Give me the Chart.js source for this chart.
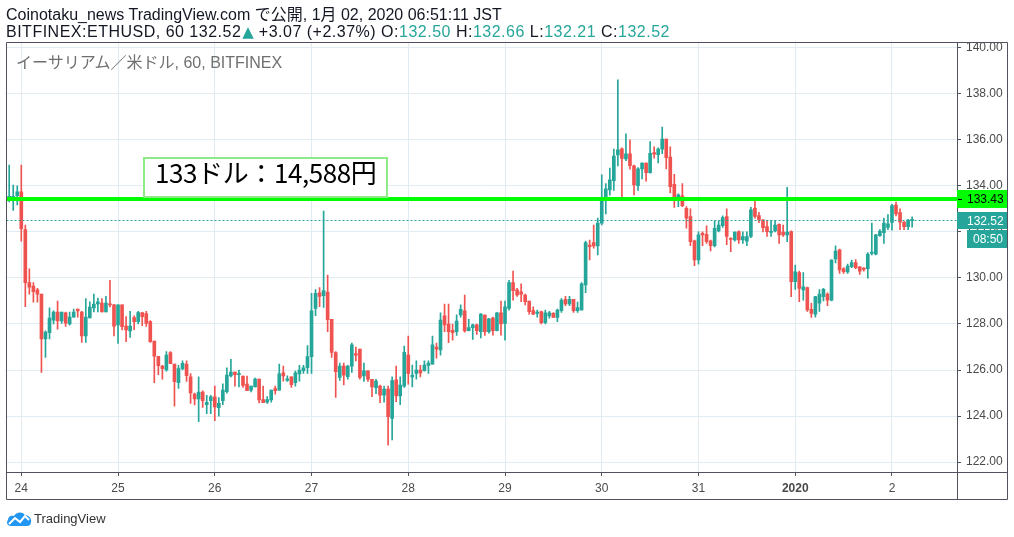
<!DOCTYPE html>
<html lang="ja">
<head>
<meta charset="utf-8">
<title>BITFINEX:ETHUSD, 60</title>
<script src="https://cdn.jsdelivr.net/npm/chart.js@4.4.1/dist/chart.umd.min.js"></script>
<style>
  html, body { margin: 0; padding: 0; background: #fff; }
  body {
    width: 1014px; height: 537px; position: relative; overflow: hidden;
    font-family: "Liberation Sans", "Noto Sans CJK JP", sans-serif;
  }
  #chart { position: absolute; left: 0; top: 0; }
  .hdr { position: absolute; left: 6px; font-size: 16px; line-height: 16px; color: #131722; white-space: nowrap; }
  #hdr1 { top: 7px; }
  #hdr2 { top: 24px; letter-spacing: 0.5px; }
  #hdr2 .tri { font-family: "DejaVu Sans", sans-serif; font-size: 15px; margin: 0 5px 0 1px; letter-spacing: 0; }
  .up { color: #26a69a; }
  #wm { position: absolute; left: 16px; top: 55px; font-size: 16px; line-height: 15px; color: #6f6f6f; white-space: nowrap; }
  #note {
    position: absolute; left: 143px; top: 157px; width: 245px; height: 41px; box-sizing: border-box;
    border: 2px solid #8fe986; background: #fff; padding-left: 10px; letter-spacing: -0.4px;
    font-family: "Noto Sans CJK JP", sans-serif; font-size: 26px; line-height: 26px; color: #000; white-space: nowrap;
  }
  #footer { position: absolute; left: 6px; top: 510px; height: 18px; }
  #footer svg { position: absolute; left: 0; top: 0; }
  #footer span { position: absolute; left: 28px; top: 2px; font-size: 13px; line-height: 13px; color: #333; }
</style>
</head>
<body>
<canvas id="chart" width="1014" height="537"></canvas>
<div id="hdr1" class="hdr">Coinotaku_news TradingView.com で公開, 1月 02, 2020 06:51:11 JST</div>
<div id="hdr2" class="hdr">BITFINEX:ETHUSD, 60 132.52<span class="up tri">▲</span>+3.07 (+2.37%) O:<span class="up">132.50</span> H:<span class="up">132.66</span> L:<span class="up">132.21</span> C:<span class="up">132.52</span></div>
<div id="wm">イーサリアム／米ドル, 60, BITFINEX</div>
<div id="note">133ドル：14,588円</div>
<div id="footer">
  <svg width="26" height="17" viewBox="0 0 26 17">
    <path d="M5 16 C1 16 0 12 2 10 C2 6 6 5 8 6 C10 2 16 1 19 5 C23 5 26 9 25 12 C25 15 23 16 21 16 Z" fill="#2196f3"/>
    <polyline points="3,14 9,8 14,12 19,6 23,10" fill="none" stroke="#fff" stroke-width="2"/>
  </svg>
  <span>TradingView</span>
</div>
<script>
// hourly candles, Dec 23 21:00 -> Jan 2 05:00
const opens = [
  133.45,133.5,133.57,133.74,132.1,129.8,129.65,129.48,129.3,127.35,
  127.62,128.17,128.52,128.13,128.48,128.0,128.3,128.65,128.52,127.48,
  128.26,128.7,128.87,128.91,128.52,128.87,128.83,127.96,128.83,127.91,
  127.7,128.28,128.1,128.5,128.45,128.1,127.26,126.6,126.17,126.0,
  126.76,126.26,125.45,126.06,126.26,125.71,124.96,124.75,125.04,124.5,
  124.67,124.84,124.36,124.67,125.06,125.74,125.91,125.8,125.74,125.39,
  125.13,125.27,125.61,124.72,124.6,124.7,125.19,125.13,125.88,125.55,
  125.7,125.45,125.83,125.97,126.1,126.58,128.68,129.35,129.23,129.39,
  128.2,126.76,125.68,126.17,125.71,126.17,126.72,126.91,125.74,125.96,
  125.6,125.23,125.3,124.91,125.17,123.9,125.57,124.88,125.3,126.65,
  125.7,125.85,126.0,125.97,126.2,126.26,127.0,126.87,128.36,128.0,
  127.73,127.67,128.39,128.57,127.71,127.84,127.96,127.67,128.39,127.67,
  128.26,127.71,128.49,128.03,128.68,129.8,129.48,129.4,129.26,129.0,
  128.58,128.46,128.54,128.06,128.35,128.46,128.29,128.58,129.07,128.87,
  129.07,128.58,128.61,129.7,131.43,131.54,131.39,132.38,133.47,133.83,
  134.23,135.35,135.61,135.17,135.39,134.87,134.01,134.74,134.99,134.58,
  135.45,135.36,135.6,136.03,135.25,134.07,133.36,133.57,133.03,132.67,
  131.61,130.78,131.94,131.9,131.61,131.4,132.04,132.27,132.67,131.72,
  131.65,132.01,131.65,131.6,131.8,133.03,132.71,132.52,132.23,131.98,
  132.04,132.33,131.99,131.87,132.01,129.84,130.23,129.48,129.58,128.64,
  128.43,128.9,129.19,129.3,129.04,130.83,131.22,130.4,130.26,130.49,
  130.67,130.48,130.43,130.4,131.07,131.03,131.84,131.97,132.2,132.41,
  133.17,132.84,132.43,132.23,132.50
];
const highs = [
  134.9,134.04,134.0,134.9,132.3,130.4,129.8,129.55,129.3,127.7,
  128.7,128.57,129.0,128.52,128.52,128.52,128.65,128.65,128.55,129.1,
  128.96,129.3,129.13,129.1,129.2,129.9,128.85,128.83,128.83,128.32,
  128.55,128.35,128.55,128.5,128.55,128.15,127.26,126.6,126.2,126.8,
  126.8,126.26,126.2,126.4,126.4,125.85,125.0,125.7,125.1,124.9,
  124.9,125.3,124.8,125.4,126.1,126.46,125.91,126.0,125.74,125.74,
  125.3,125.65,125.61,125.3,124.85,125.13,125.3,126.26,126.17,125.75,
  125.7,125.95,126.2,126.2,127.06,129.33,129.5,129.58,132.91,130.13,
  128.2,126.8,126.3,126.3,126.2,127.17,127.0,126.91,126.3,125.96,
  125.6,125.6,125.35,125.3,125.3,125.7,126.17,125.7,127.04,127.48,
  126.22,126.4,126.2,126.4,126.4,127.48,127.17,128.49,128.87,128.87,
  128.0,128.4,128.83,129.26,128.2,128.0,128.0,128.45,128.4,128.25,
  128.3,128.5,129.0,129.0,129.9,130.3,129.55,129.74,129.3,129.0,
  128.75,128.6,128.56,128.6,128.55,128.5,128.65,129.1,129.2,129.2,
  129.07,128.95,129.8,131.6,131.65,132.3,132.6,134.48,134.1,134.77,
  135.6,138.61,135.65,136.26,136.0,134.9,134.8,135.0,135.0,135.93,
  135.7,135.65,136.55,136.03,135.7,134.5,133.65,134.1,133.1,133.0,
  131.65,132.0,132.0,132.27,131.65,132.48,132.48,132.7,133.0,131.76,
  132.0,132.05,132.0,132.0,133.07,133.39,132.85,132.55,132.5,132.5,
  132.5,132.35,132.3,133.94,132.05,130.56,130.3,130.23,129.6,128.9,
  129.2,129.5,129.55,129.35,130.8,131.4,131.25,130.45,130.6,130.78,
  130.8,130.5,130.45,131.1,132.38,131.9,132.1,132.6,132.75,133.2,
  133.3,133.0,132.45,132.55,132.66
];
const lows = [
  133.3,132.93,133.17,131.6,128.75,129.3,128.95,128.95,125.9,126.55,
  127.35,128.0,127.78,128.03,127.9,127.95,128.3,128.3,127.2,127.2,
  128.26,128.52,128.52,128.52,128.52,128.74,127.48,127.16,127.74,127.23,
  127.42,127.75,128.0,127.93,127.9,127.2,125.45,125.8,125.6,125.95,
  126.28,124.43,125.2,126.0,125.5,124.55,124.48,123.76,124.38,124.1,
  124.1,123.8,124.0,124.5,125.0,125.7,125.3,125.27,125.25,125.1,
  125.05,125.27,124.57,124.58,124.55,124.6,124.95,125.13,125.52,125.5,
  125.25,125.3,125.52,125.85,125.85,125.85,128.36,128.75,128.72,127.67,
  126.55,124.81,125.55,125.35,125.6,125.9,126.4,125.6,125.5,125.5,
  124.84,124.97,124.58,124.6,122.74,122.96,124.63,124.5,125.25,125.39,
  125.27,125.6,125.7,125.95,125.85,126.26,126.52,126.65,127.67,127.19,
  127.3,127.5,128.3,127.65,127.7,127.33,127.55,127.4,127.5,127.6,
  127.52,127.7,127.52,127.3,128.6,129.04,129.2,128.97,128.83,128.43,
  128.4,128.3,128.0,128.0,128.25,128.29,128.1,128.5,128.8,128.8,
  128.5,128.5,128.6,129.36,130.78,131.29,131.0,132.3,132.78,133.6,
  133.8,134.87,133.51,135.1,134.73,133.61,133.8,134.3,134.2,134.55,
  135.2,135.0,135.4,134.74,133.7,133.07,133.1,133.1,132.16,131.4,
  130.53,130.6,131.4,131.5,131.17,131.35,132.0,132.2,131.45,131.14,
  131.6,131.5,131.5,131.4,131.75,132.6,132.4,132.0,131.8,131.8,
  132.0,131.5,131.8,131.58,129.19,129.5,128.97,129.04,128.55,128.29,
  128.3,128.55,129.0,128.8,129.0,130.65,130.2,130.2,130.2,130.45,
  130.4,130.15,130.3,129.99,131.0,131.0,131.8,131.5,132.1,132.08,
  132.7,132.1,132.1,132.1,132.21
];
const closes = [
  133.55,133.55,133.74,132.14,129.8,129.6,129.4,129.3,127.35,127.65,
  128.26,128.52,128.13,128.52,128.04,128.3,128.52,128.57,127.48,128.3,
  128.74,128.87,128.96,128.52,128.91,128.83,127.91,128.83,127.88,127.74,
  127.91,128.1,128.5,128.32,128.03,127.23,126.6,126.19,126.06,126.65,
  126.28,125.49,126.06,126.29,125.75,125.01,124.75,125.04,124.67,124.6,
  124.84,124.4,124.55,125.13,125.78,125.91,125.8,125.85,125.33,125.1,
  125.3,125.61,124.7,124.58,124.72,125.13,125.1,125.83,125.74,125.62,
  125.36,125.88,126.0,126.1,126.58,128.57,129.33,129.2,129.45,128.19,
  126.76,125.93,126.17,125.78,126.17,127.09,126.65,125.68,125.96,125.6,
  125.27,125.52,124.91,125.17,123.97,125.54,124.88,125.35,126.77,125.85,
  125.78,126.0,125.88,126.22,126.3,127.09,126.91,128.17,127.96,127.67,
  127.62,128.13,128.64,127.7,127.84,127.96,127.71,128.43,127.67,128.22,
  127.71,128.49,128.0,128.75,129.8,129.45,129.26,129.3,128.97,128.54,
  128.43,128.52,128.06,128.49,128.49,128.29,128.61,129.04,128.87,129.07,
  128.58,128.71,129.74,131.54,131.36,131.39,132.38,133.39,133.87,134.26,
  135.3,135.57,135.19,135.39,134.88,134.04,134.74,134.99,134.58,135.42,
  135.38,135.6,136.03,135.23,133.97,133.36,133.61,133.14,132.6,131.58,
  130.78,131.87,131.87,131.58,131.4,132.16,132.3,132.62,131.8,131.68,
  131.99,131.65,131.8,131.8,132.96,132.67,132.52,132.19,132.01,132.03,
  132.3,131.87,131.87,131.99,129.84,130.27,129.55,129.62,128.61,128.46,
  129.19,129.3,129.51,129.04,130.78,131.17,130.35,130.27,130.52,130.67,
  130.45,130.3,130.37,131.04,131.12,131.87,132.04,132.38,132.35,133.15,
  132.78,132.42,132.23,132.52,132.52
];

// day boundaries (candle index) and their labels
const dayIndex = [3, 27, 51, 75, 99, 123, 147, 171, 195, 219];
const dayLabels = ['24', '25', '26', '27', '28', '29', '30', '31', '2020', '2'];
const yTicks = [122, 124, 126, 128, 130, 132, 134, 136, 138, 140];

const markPrice = 133.43;   // drawn horizontal line
const lastPrice = 132.52;
const countdown = '08:50';

const UP = '#26a69a';
const DOWN = '#ef5350';
const AXIS = '#50535e';
const GRID = '#e1ecf2';
const FONT = '"Liberation Sans", "Noto Sans CJK JP", sans-serif';

const candleColors = closes.map((c, i) => (c >= opens[i] ? UP : DOWN));

// frame, price line and right-axis labels
const overlay = {
    id: 'overlay',
    afterDraw(chart) {
        const { ctx, chartArea: a, scales: { y } } = chart;
        const right = 1007.5;
        const bottom = 499.5;
        ctx.save();

        // price line 133.43
        const yMark = y.getPixelForValue(markPrice);
        ctx.strokeStyle = '#00ff00';
        ctx.lineWidth = 4;
        ctx.beginPath();
        ctx.moveTo(a.left, yMark);
        ctx.lineTo(a.right, yMark);
        ctx.stroke();

        // last price dotted line
        const yLast = Math.round(y.getPixelForValue(lastPrice)) + 0.5;
        ctx.strokeStyle = UP;
        ctx.lineWidth = 1;
        ctx.setLineDash([2, 2]);
        ctx.beginPath();
        ctx.moveTo(a.left, yLast);
        ctx.lineTo(a.right, yLast);
        ctx.stroke();
        ctx.setLineDash([]);

        // frame
        ctx.strokeStyle = AXIS;
        ctx.lineWidth = 1;
        ctx.beginPath();
        ctx.moveTo(6.5, 42.5); ctx.lineTo(right, 42.5);
        ctx.moveTo(6.5, 42.5); ctx.lineTo(6.5, bottom);
        ctx.moveTo(right, 42.5); ctx.lineTo(right, bottom);
        ctx.moveTo(6.5, bottom); ctx.lineTo(right, bottom);
        ctx.moveTo(a.right, 472.5); ctx.lineTo(right, 472.5);
        ctx.moveTo(957.5, a.bottom); ctx.lineTo(957.5, bottom);
        ctx.stroke();

        // axis labels
        ctx.font = '12px ' + FONT;
        ctx.textBaseline = 'middle';
        ctx.textAlign = 'left';

        ctx.fillStyle = '#00ff00';
        ctx.fillRect(957, yMark - 9, 50, 18);
        ctx.fillStyle = '#000';
        ctx.fillText(markPrice.toFixed(2), 967, yMark + 1);
        ctx.fillRect(958, Math.round(yMark), 4, 1);

        ctx.fillStyle = UP;
        ctx.fillRect(957, yLast - 8.5, 50, 17);
        ctx.fillRect(967, yLast + 9.5, 40, 18);
        ctx.fillStyle = '#fff';
        ctx.fillText(lastPrice.toFixed(2), 967, yLast + 1);
        ctx.fillText(countdown, 973, yLast + 19);
        ctx.restore();
    }
};

const tickFont = { family: FONT, size: 12 };

new Chart(document.getElementById('chart'), {
    type: 'bar',
    data: {
        datasets: [
            {
                label: 'wick',
                data: highs.map((h, i) => ({ x: i, y: [lows[i], h] })),
                backgroundColor: candleColors,
                barThickness: 1,
                grouped: false,
                borderWidth: 0
            },
            {
                label: 'body',
                data: opens.map((o, i) => ({ x: i, y: [o, closes[i]] })),
                backgroundColor: candleColors,
                barThickness: 3,
                minBarLength: 1,
                grouped: false,
                borderWidth: 0
            }
        ]
    },
    options: {
        responsive: false,
        animation: false,
        events: [],
        layout: { padding: { left: 6.5, top: 42.5, right: 7, bottom: 38 } },
        plugins: { legend: { display: false }, tooltip: { enabled: false } },
        scales: {
            x: {
                type: 'linear',
                min: -0.67,
                max: 235.13,
                offset: false,
                afterBuildTicks: s => { s.ticks = dayIndex.map(v => ({ value: v })); },
                afterFit: s => { s.height = 27; },
                ticks: {
                    autoSkip: false,
                    maxRotation: 0,
                    padding: 5,
                    color: '#4a4a4a',
                    font: c => (c.index === 8 ? { ...tickFont, weight: 'bold' } : tickFont),
                    callback: (v, i) => dayLabels[i]
                },
                grid: { offset: false, color: GRID, tickColor: AXIS, tickLength: 4 },
                border: { color: AXIS }
            },
            y: {
                position: 'right',
                min: 121.57,
                max: 140.23,
                beginAtZero: false,
                afterBuildTicks: s => { s.ticks = yTicks.map(v => ({ value: v })); },
                afterFit: s => { s.width = 50; },
                ticks: {
                    padding: 5,
                    color: '#4a4a4a',
                    font: tickFont,
                    callback: v => v.toFixed(2)
                },
                grid: { color: GRID, tickColor: AXIS, tickLength: 4 },
                border: { color: AXIS }
            }
        }
    },
    plugins: [overlay]
});
</script>
</body>
</html>
